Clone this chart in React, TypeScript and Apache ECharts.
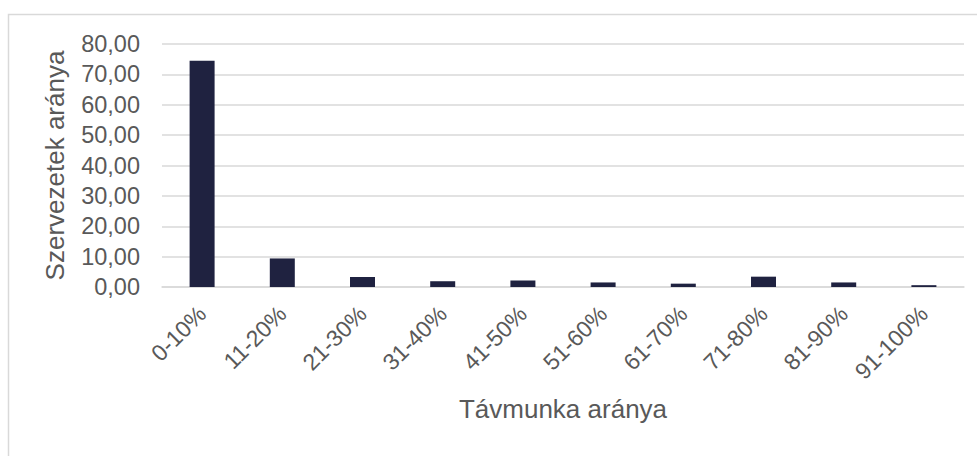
import React, { useEffect, useRef } from "react";
import * as echarts from "echarts";

const categories = ["0-10%", "11-20%", "21-30%", "31-40%", "41-50%", "51-60%", "61-70%", "71-80%", "81-90%", "91-100%"];
const values = [74.5, 9.4, 3.3, 1.9, 2.1, 1.5, 1.1, 3.4, 1.5, 0.6];
const yTicks = { min: 0, max: 80, interval: 10 };
const xName = "Távmunka aránya";
const yName = "Szervezetek aránya";

const FONT = 'Arial, "Liberation Sans", sans-serif';

export default function App() {
  const ref = useRef<HTMLDivElement>(null);
  useEffect(() => {
    if (!ref.current) return;
    const chart = echarts.init(ref.current, undefined, { renderer: "svg" });
    chart.setOption({
      animation: false,
      backgroundColor: "#ffffff",
      grid: { left: 162, right: 13, top: 44, bottom: 169, containLabel: false },
      graphic: [
        {
          type: "rect",
          shape: { x: 8.5, y: 14.5, width: 1000, height: 500 },
          style: { fill: "none", stroke: "#d9d9d9", lineWidth: 1.5 },
          silent: true,
        },
      ],
      xAxis: {
        type: "category",
        data: categories,
        name: xName,
        nameLocation: "middle",
        nameGap: 109,
        nameTextStyle: { fontFamily: FONT, fontSize: 26, color: "#595959" },
        axisLine: { show: true, lineStyle: { color: "#d9d9d9", width: 1.5 } },
        axisTick: { show: false },
        axisLabel: {
          rotate: 45,
          fontFamily: FONT,
          fontSize: 23,
          color: "#595959",
          margin: 23,
          interval: 0,
        },
      },
      yAxis: {
        type: "value",
        min: yTicks.min,
        max: yTicks.max,
        interval: yTicks.interval,
        name: yName,
        nameLocation: "middle",
        nameGap: 94,
        nameTextStyle: { fontFamily: FONT, fontSize: 26, color: "#595959" },
        axisLine: { show: false },
        axisTick: { show: false },
        splitLine: { lineStyle: { color: "#d9d9d9", width: 1.5 } },
        axisLabel: {
          fontFamily: FONT,
          fontSize: 23.5,
          color: "#595959",
          margin: 22,
          formatter: (v: number) => v.toFixed(2).replace(".", ","),
        },
      },
      series: [
        {
          type: "bar",
          data: values,
          barWidth: 25,
          itemStyle: { color: "#1f2240" },
        },
      ],
    });
    return () => chart.dispose();
  }, []);
  return (
    <div
      ref={ref}
      style={{ position: "absolute", left: 0, top: 0, width: 977, height: 456 }}
    />
  );
}
